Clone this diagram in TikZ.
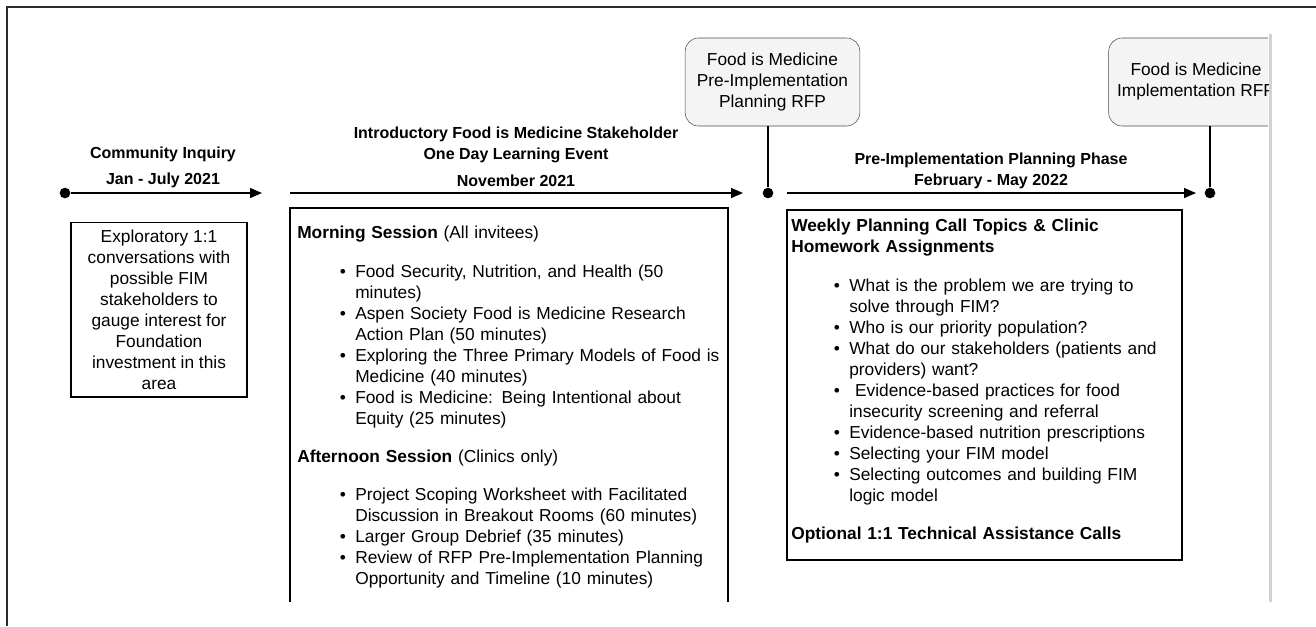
\documentclass[tikz,border=0pt]{standalone}
\usepackage{fontspec}
\setmainfont{Liberation Sans}
\usepackage{enumitem}
\usetikzlibrary{arrows.meta,positioning}

\definecolor{rfpfill}{HTML}{F4F4F4}
\definecolor{framegray}{HTML}{2B2B2B}
\definecolor{edgegray}{HTML}{D2D2D2}

\newcommand{\bodyfont}{\fontsize{13}{15.75}\selectfont}
\newcommand{\headfont}{\fontsize{12}{15.75}\selectfont\bfseries}

% bullet lists inside the session boxes
\newlist{topics}{itemize}{1}
\setlist[topics]{label=\textbullet, nosep, leftmargin=43.5pt, labelsep=7pt, topsep=13pt}

\begin{document}
\begin{tikzpicture}[x=0.75pt,y=-0.75pt,
phase/.style={
font=\headfont,
align=center
},
box/.style={draw=black, line width=1pt},
rfp/.style={
% the RFP call-outs:
rectangle, rounded corners=10pt,
draw=black!70, fill=rfpfill,
minimum width=131pt, minimum height=66pt,
align=center, font=\bodyfont
},
dot/.style={circle, fill=black, inner sep=0pt, minimum size=8pt},
tl/.style={line width=1pt, -{Triangle[length=9pt,width=7.5pt]}},
body/.style={anchor=north west, inner sep=0pt, font=\bodyfont, align=left}
]
\useasboundingbox (0,0) rectangle (1316,626);

% page frame
\draw[framegray, line width=1.5pt] (7,626) -- (7,7) -- (1316,7);
\draw[edgegray, line width=2.25pt] (1270,34) -- (1270,602);

% timeline
\node (d1) [dot] at (65,193) {};
\coordinate (a1) at (262,193);
\coordinate (s2) at (290,193);
\coordinate (a2) at (743,193);
\node (d2) [dot] at (768,193) {};
\coordinate (s3) at (787,193);
\coordinate (a3) at (1196,193);
\node (d3) [dot] at (1210,193) {};
\draw[tl] (d1) -- (a1);
\draw[tl] (s2) -- (a2);
\draw[tl] (s3) -- (a3);

\node (inquiry) [phase] at (163,167.5) {Community Inquiry\\[3.75pt]Jan - July 2021};
\node (event) [phase] at (516,156.5) {Introductory Food is Medicine Stakeholder\\One Day Learning Event\\[4.5pt]November 2021};
\node (planning) [phase] at (991,170.5) {Pre-Implementation Planning Phase\\February - May 2022};

% RFP releases
\node (rfpA) [rfp] at (772.5,82) {Food is Medicine\\Pre-Implementation\\Planning RFP};
\begin{scope}
\clip (0,0) rectangle (1268,626);
\node (rfpB) [rfp] at (1196,82) {Food is Medicine\\Implementation RFP};
\end{scope}
\draw[line width=1pt] (rfpA.south -| d2) -- (d2);
\draw[line width=1pt] (rfpB.south -| d3) -- (d3);

% community inquiry box
\node (talks) [draw=black, line width=1pt, minimum width=132pt, minimum height=131pt, align=center, font=\bodyfont] at (159,309.5) {Exploratory 1:1\\conversations with\\possible FIM\\stakeholders to\\gauge interest for\\Foundation\\investment in this\\area};

% learning event box (open at the bottom)
\draw[box] (290,602) -- (290,208) -- (728,208) -- (728,602);
\node (sessions) [body, text width=340pt] at (297,226) {%
\textbf{Morning Session} (All invitees)
\begin{topics}
\item Food Security, Nutrition, and Health (50\newline minutes)
\item Aspen Society Food is Medicine Research\newline Action Plan (50 minutes)
\item Exploring the Three Primary Models of Food is\newline Medicine (40 minutes)
\item Food is Medicine: Being Intentional about\newline Equity (25 minutes)
\end{topics}
\textbf{Afternoon Session} (Clinics only)
\begin{topics}
\item Project Scoping Worksheet with Facilitated\newline Discussion in Breakout Rooms (60 minutes)
\item Larger Group Debrief (35 minutes)
\item Review of RFP Pre-Implementation Planning\newline Opportunity and Timeline (10 minutes)
\end{topics}};

% planning phase box
\draw[box] (787,210) rectangle (1182,560);
\node (calls) [body, text width=310pt] at (791,219) {%
\textbf{Weekly Planning Call Topics \& Clinic\newline Homework Assignments}
\begin{topics}
\item What is the problem we are trying to\newline solve through FIM?
\item Who is our priority population?
\item What do our stakeholders (patients and\newline providers) want?
\item \ Evidence-based practices for food\newline insecurity screening and referral
\item Evidence-based nutrition prescriptions
\item Selecting your FIM model
\item Selecting outcomes and building FIM\newline logic model
\end{topics}
\textbf{Optional 1:1 Technical Assistance Calls}};
\end{tikzpicture}
\end{document}
